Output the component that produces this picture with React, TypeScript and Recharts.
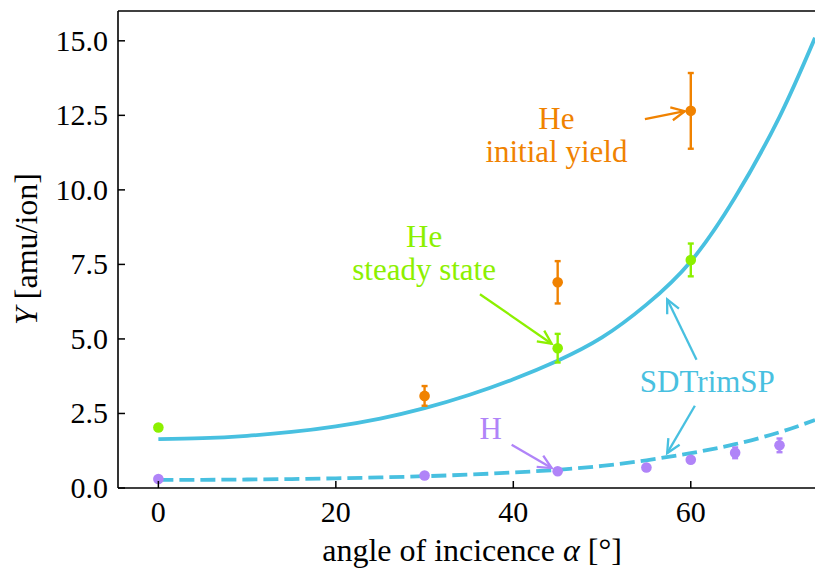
import React from 'react';
import {
  ComposedChart,
  Line,
  Scatter,
  ErrorBar,
  XAxis,
  YAxis,
  ReferenceLine,
  ReferenceDot,
  Label,
} from 'recharts';

// SDTrimSP simulation curves (yield vs. angle)
const simAngles = [0, 5, 10, 15, 20, 25, 30, 35, 40, 45, 50, 55, 60, 65, 70, 74];
const simHe = [1.64, 1.67, 1.75, 1.88, 2.07, 2.33, 2.68, 3.12, 3.65, 4.27, 5.05, 6.15, 7.6, 9.75, 12.45, 15.1];
const simH = [0.27, 0.275, 0.285, 0.3, 0.325, 0.355, 0.395, 0.45, 0.52, 0.61, 0.74, 0.93, 1.17, 1.47, 1.87, 2.28];

// measured yields
const heInitAngles = [30, 45, 60];
const heInitYield = [3.09, 6.9, 12.65];
const heInitErr = [0.33, 0.71, 1.27];

const heSteadyAngles = [0, 45, 60];
const heSteadyYield = [2.03, 4.69, 7.65];
const heSteadyErr = [0, 0.48, 0.55];

const hAngles = [0, 30, 45, 55, 60, 65, 70];
const hYield = [0.3, 0.42, 0.56, 0.69, 0.95, 1.18, 1.43];
const hErr = [0, 0, 0, 0, 0, 0.18, 0.23];

const xTicks = [0, 20, 40, 60];
const yTicks = [0, 2.5, 5, 7.5, 10, 12.5, 15];

const ORANGE = '#f08200';
const GREEN = '#8cf000';
const PURPLE = '#b084f8';
const CYAN = '#48c0e0';
const SERIF = '"Liberation Serif", "DejaVu Serif", serif';

const rows = (xs: number[], ys: number[], es?: number[]) =>
  xs.map((a, i) => ({ a, y: ys[i], e: es ? es[i] : 0 }));

const simHeRows = rows(simAngles, simHe);
const simHRows = rows(simAngles, simH);
const heInitRows = rows(heInitAngles, heInitYield, heInitErr);
const heSteadyRows = rows(heSteadyAngles, heSteadyYield, heSteadyErr);
const hRows = rows(hAngles, hYield, hErr);

// text labels and arrows, in data coordinates
const notes = [
  { x: 44.86, y: 12.03, lines: ['He', 'initial yield'], color: ORANGE },
  { x: 29.95, y: 8.1, lines: ['He', 'steady state'], color: GREEN },
  { x: 37.45, y: 1.64, lines: ['H'], color: PURPLE },
  { x: 61.87, y: 3.23, lines: ['SDTrimSP'], color: CYAN },
];

const arrows = [
  { from: [54.83, 12.37], to: [59.33, 12.64], color: ORANGE },
  { from: [36.24, 6.5], to: [44.32, 4.84], color: GREEN },
  { from: [39.81, 1.45], to: [44.32, 0.67], color: PURPLE },
  { from: [60.65, 4.3], to: [57.34, 6.33], color: CYAN },
  { from: [60.46, 2.76], to: [57.34, 1.17], color: CYAN },
];

const dot = (color: string) => (p: any) =>
  <circle cx={p.cx} cy={p.cy} r={5.3} fill={color} />;

const XTick = (p: any) => (
  <g>
    <line x1={p.x} y1={p.y} x2={p.x} y2={p.y - 7} stroke="#000" strokeWidth={1.5} />
    <text x={p.x} y={p.y + 34} textAnchor="middle" fontSize={30} fontFamily={SERIF} fill="#000">
      {p.payload.value}
    </text>
  </g>
);

const YTick = (p: any) => (
  <g>
    <line x1={p.x} y1={p.y} x2={p.x + 7} y2={p.y} stroke="#000" strokeWidth={1.5} />
    <text x={p.x - 10} y={p.y + 10} textAnchor="end" fontSize={30} fontFamily={SERIF} fill="#000">
      {Number(p.payload.value).toFixed(1)}
    </text>
  </g>
);

const arrowShape = (color: string) => (p: any) => {
  const { x1, y1, x2, y2 } = p;
  const ang = Math.atan2(y2 - y1, x2 - x1);
  const len = 15;
  const spread = 0.45;
  const hx1 = x2 - len * Math.cos(ang - spread);
  const hy1 = y2 - len * Math.sin(ang - spread);
  const hx2 = x2 - len * Math.cos(ang + spread);
  const hy2 = y2 - len * Math.sin(ang + spread);
  return (
    <g>
      <line x1={x1} y1={y1} x2={x2} y2={y2} stroke={color} strokeWidth={2.3} />
      <polyline
        points={`${hx1},${hy1} ${x2},${y2} ${hx2},${hy2}`}
        fill="none"
        stroke={color}
        strokeWidth={2.3}
      />
    </g>
  );
};

// one <text> per line so the two rows stay separate
const noteShape = (lines: string[], color: string) => (p: any) => (
  <g>
    {lines.map((t, i) => (
      <text
        key={t}
        x={p.cx}
        y={p.cy + i * 33}
        textAnchor="middle"
        fontSize={31}
        fontFamily={SERIF}
        fill={color}
      >
        {t}
      </text>
    ))}
  </g>
);

const XTitle = () => (
  <text x={472} y={561} textAnchor="middle" fontSize={32} fontFamily={SERIF} fill="#000">
    angle of incicence <tspan fontStyle="italic">α</tspan> [°]
  </text>
);

const YTitle = () => (
  <text
    x={37}
    y={249}
    transform="rotate(-90, 37, 249)"
    textAnchor="middle"
    fontSize={32}
    fontFamily={SERIF}
    fill="#000"
  >
    <tspan fontStyle="italic">Y</tspan> [amu/ion]
  </text>
);

export default function App() {
  return (
    <div style={{ position: 'absolute', left: 0, top: 0, background: '#fff' }}>
      <ComposedChart width={815} height={570} margin={{ top: 11, right: 0, bottom: 0, left: 0 }}>
        <XAxis
          type="number"
          dataKey="a"
          domain={[-4.55, 74]}
          ticks={xTicks}
          interval={0}
          allowDataOverflow
          height={82}
          tickSize={0}
          tickMargin={0}
          tickLine={false}
          tick={XTick}
          axisLine={{ stroke: '#000', strokeWidth: 1.6 }}
        >
          <Label content={XTitle} />
        </XAxis>
        <YAxis
          type="number"
          dataKey="y"
          domain={[0, 16]}
          ticks={yTicks}
          interval={0}
          allowDataOverflow
          width={118}
          tickSize={0}
          tickMargin={0}
          tickLine={false}
          tick={YTick}
          axisLine={{ stroke: '#000', strokeWidth: 1.6 }}
        >
          <Label content={YTitle} />
        </YAxis>
        <ReferenceLine y={16} stroke="#000" strokeWidth={1.6} />

        <Line
          data={simHeRows}
          dataKey="y"
          type="natural"
          stroke={CYAN}
          strokeWidth={3.8}
          dot={false}
          activeDot={false}
          isAnimationActive={false}
        />
        <Line
          data={simHRows}
          dataKey="y"
          type="natural"
          stroke={CYAN}
          strokeWidth={3.8}
          strokeDasharray="15 6"
          dot={false}
          activeDot={false}
          isAnimationActive={false}
        />

        <Scatter data={heInitRows} dataKey="y" shape={dot(ORANGE)} isAnimationActive={false}>
          <ErrorBar dataKey="e" direction="y" width={3} stroke={ORANGE} strokeWidth={2.4} />
        </Scatter>
        <Scatter data={heSteadyRows} dataKey="y" shape={dot(GREEN)} isAnimationActive={false}>
          <ErrorBar dataKey="e" direction="y" width={3} stroke={GREEN} strokeWidth={2.4} />
        </Scatter>
        <Scatter data={hRows} dataKey="y" shape={dot(PURPLE)} isAnimationActive={false}>
          <ErrorBar dataKey="e" direction="y" width={3} stroke={PURPLE} strokeWidth={2.4} />
        </Scatter>

        {arrows.map((ar, i) => (
          <ReferenceLine
            key={`arrow-${i}`}
            segment={[
              { x: ar.from[0], y: ar.from[1] },
              { x: ar.to[0], y: ar.to[1] },
            ]}
            shape={arrowShape(ar.color)}
          />
        ))}
        {notes.map((n) => (
          <ReferenceDot
            key={n.lines.join(' ')}
            x={n.x}
            y={n.y}
            r={1}
            shape={noteShape(n.lines, n.color)}
          />
        ))}
      </ComposedChart>
    </div>
  );
}
